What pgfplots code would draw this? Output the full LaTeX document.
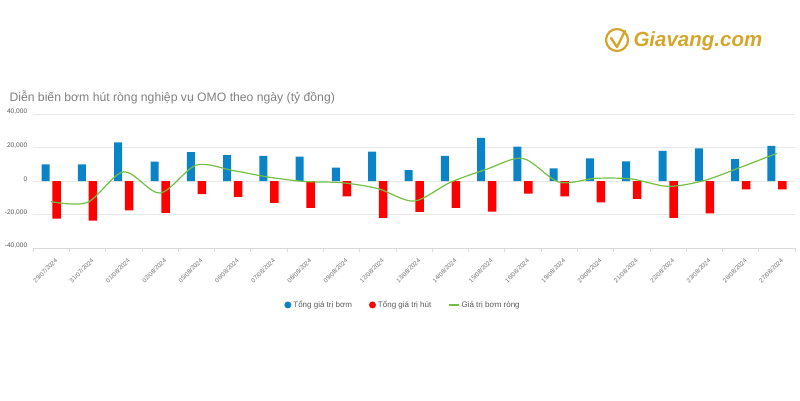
\documentclass[border=0pt]{standalone}
\usepackage{fontspec}
\setmainfont{Liberation Sans}
\usepackage{pgfplots}
\pgfplotsset{compat=1.18}
\definecolor{bom}{HTML}{0A84C6}
\definecolor{hut}{HTML}{FF0000}
\definecolor{rong}{HTML}{72BF44}
\definecolor{gold}{HTML}{D4A62A}

\begin{document}
\begin{tikzpicture}
\path[use as bounding box] (0pt,-400pt) rectangle (800pt,0pt);

% logo
\draw[gold, line width=2.2pt] (617pt,-40pt) circle (11pt);
\draw[gold, line width=2.4pt, line cap=round, line join=round] (611pt,-38pt) -- (617pt,-47pt) -- (625pt,-31pt);
\node[anchor=west, text=gold, font=\fontsize{20.5}{24}\selectfont\bfseries\itshape] at (630pt,-41pt) {Giavang.com};

% title
\node[anchor=west, text=black!50, font=\fontsize{12.2}{14}\selectfont] at (6pt,-97pt)
  {Diễn biến bơm hút ròng nghiệp vụ OMO theo ngày (tỷ đồng)};

\begin{axis}[
  at={(33pt,-248pt)}, anchor=south west,
  scale only axis, width=762pt, height=134pt,
  xmin=-0.5, xmax=20.5, ymin=-40000, ymax=40000,
  axis line style={draw=none},
  ymajorgrids, grid style={black!9, line width=0.6pt},
  ytick={-40000,-20000,0,20000,40000},
  scaled y ticks=false,
  yticklabel style={font=\fontsize{6.6}{8}\selectfont, text=black!65, yshift=2pt, xshift=2pt,
    /pgf/number format/.cd, fixed, 1000 sep={,}, assume math mode=true},
  ytick style={draw=none},
  xtick={0,...,20},
  xtick pos=lower,
  xticklabels={29/07/2024,31/07/2024,01/08/2024,02/08/2024,05/08/2024,06/08/2024,07/08/2024,08/08/2024,09/08/2024,12/08/2024,13/08/2024,14/08/2024,15/08/2024,16/08/2024,19/08/2024,20/08/2024,21/08/2024,22/08/2024,23/08/2024,26/08/2024,27/08/2024},
  xticklabel style={font=\fontsize{6.2}{7}\selectfont, text=black!55, rotate=45, anchor=north east, yshift=-3pt, xshift=2pt},
  major x tick style={draw=none},
  minor xtick={-0.5,0.5,...,20.5},
  minor x tick style={black!15, line width=0.6pt},
  tick align=outside, minor tick length=4pt,
  legend columns=3,
  legend style={at={(0.4856,-0.425)}, anchor=center, draw=none, fill=none,
    font=\fontsize{8}{9}\selectfont, text=black!65,
    /tikz/every even column/.append style={column sep=15pt}},
]
\draw[black!15, line width=0.6pt] (axis cs:-0.5,-40000) -- (axis cs:20.5,-40000);

\addplot[ybar, bar width=8pt, bar shift=-5.5pt, fill=bom, draw=none,
  legend image code/.code={\fill[bom] (0.25em,0pt) circle (3.5pt);}]
coordinates {
(0,10000) (1,10000) (2,23000) (3,11500) (4,17300) (5,15500) (6,15000)
(7,14500) (8,8000) (9,17500) (10,6500) (11,15000) (12,25700) (13,20500)
(14,7500) (15,13500) (16,11700) (17,18000) (18,19500) (19,13000) (20,21000)
};
\addlegendentry{Tổng giá trị bơm}

\addplot[ybar, bar width=8.5pt, bar shift=5.5pt, fill=hut, draw=none,
  legend image code/.code={\fill[hut] (0.25em,0pt) circle (3.5pt);}]
coordinates {
(0,-22500) (1,-23700) (2,-17500) (3,-19000) (4,-7800) (5,-9400) (6,-13000)
(7,-16000) (8,-9200) (9,-22000) (10,-18500) (11,-16000) (12,-18300) (13,-7500)
(14,-9200) (15,-12700) (16,-10700) (17,-22000) (18,-19300) (19,-5000) (20,-5000)
};
\addlegendentry{Tổng giá trị hút}

\addplot[rong, line width=1.2pt, smooth, tension=0.5, mark=none,
  legend image code/.code={\draw[rong, line width=1.2pt] (0pt,0pt) -- (10pt,0pt);}]
coordinates {
(0,-12300) (1,-12800) (2,5500) (3,-7200) (4,9500) (5,6300) (6,2300)
(7,-300) (8,-1000) (9,-4500) (10,-12000) (11,-800) (12,7000) (13,13500)
(14,-700) (15,1600) (16,1200) (17,-3200) (18,300) (19,8200) (20,16500)
};
\addlegendentry{Giá trị bơm ròng}
\end{axis}
\end{tikzpicture}
\end{document}
